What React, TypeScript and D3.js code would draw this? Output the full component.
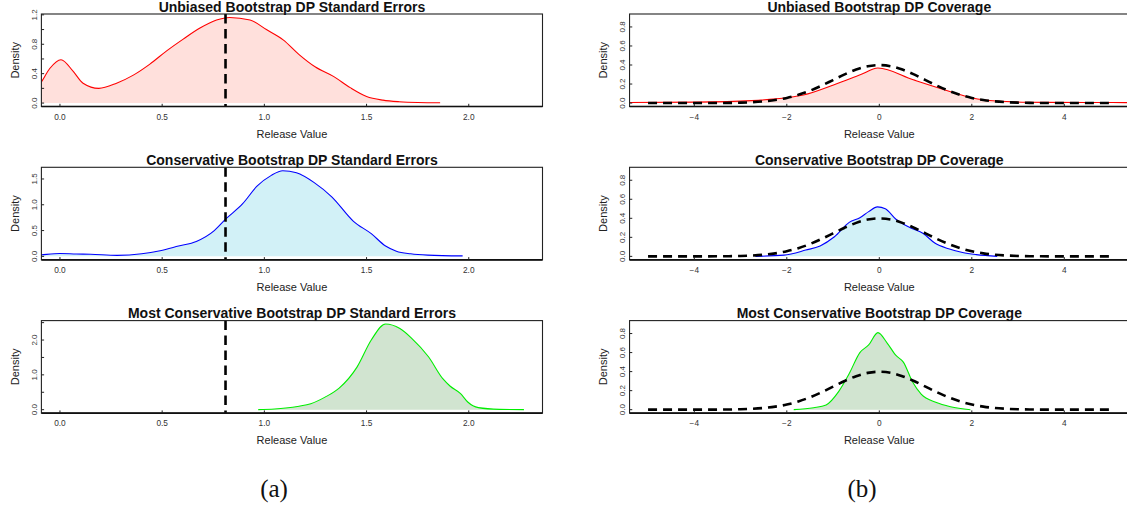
import React from "react";
import * as d3 from "d3";

type Pt = [number, number];

const W = 1127;
const H = 508;
const FONT = "'Liberation Sans', Arial, Helvetica, sans-serif";

// ---- Standard-error release densities (release value, density) ----
const unbiasedSE: Pt[] = [
  [-0.15, 0.13], [-0.093, 0.28], [-0.05, 0.47], [0.005, 0.59], [0.065, 0.43],
  [0.113, 0.27], [0.19, 0.2], [0.277, 0.27], [0.359, 0.38], [0.44, 0.53],
  [0.522, 0.71], [0.603, 0.87], [0.685, 1.02], [0.766, 1.13], [0.83, 1.165],
  [0.93, 1.13], [1.01, 1.0], [1.092, 0.86], [1.17, 0.66], [1.25, 0.49],
  [1.34, 0.36], [1.42, 0.21], [1.5, 0.09], [1.58, 0.04], [1.66, 0.018],
  [1.75, 0.008], [1.86, 0.005],
];

const conservativeSE: Pt[] = [
  [-0.12, 0.02], [-0.09, 0.03], [0.0, 0.055], [0.08, 0.045], [0.15, 0.04],
  [0.28, 0.02], [0.4, 0.05], [0.49, 0.11], [0.58, 0.2], [0.667, 0.29],
  [0.755, 0.5], [0.81, 0.72], [0.894, 1.02], [0.964, 1.36], [1.034, 1.57],
  [1.09, 1.66], [1.157, 1.62], [1.244, 1.43], [1.331, 1.15], [1.436, 0.68],
  [1.523, 0.44], [1.593, 0.2], [1.646, 0.1], [1.716, 0.05], [1.8, 0.025],
  [1.97, 0.01],
];

const mostConservativeSE: Pt[] = [
  [0.97, 0.0], [1.05, 0.02], [1.104, 0.046], [1.17, 0.1], [1.227, 0.17],
  [1.297, 0.36], [1.366, 0.62], [1.454, 1.23], [1.523, 2.0], [1.593, 2.46],
  [1.663, 2.33], [1.721, 2.05], [1.803, 1.52], [1.873, 0.89], [1.908, 0.68],
  [1.96, 0.46], [1.995, 0.22], [2.047, 0.06], [2.15, 0.01], [2.27, 0.0],
];

// ---- Coverage release densities (standardised value, density) ----
const unbiasedCov: Pt[] = [
  [-5.6, 0.006], [-3.97, 0.01], [-2.76, 0.026], [-1.98, 0.058], [-1.64, 0.085],
  [-0.99, 0.19], [-0.4, 0.3], [-0.03, 0.368], [0.735, 0.245], [1.456, 0.133],
  [2.01, 0.053], [2.53, 0.021], [3.25, 0.009], [4.5, 0.006], [5.6, 0.005],
];

const conservativeCov: Pt[] = [
  [-2.68, 0.0], [-2.06, 0.013], [-1.59, 0.066], [-1.28, 0.11], [-0.97, 0.206],
  [-0.65, 0.357], [-0.42, 0.406], [-0.23, 0.47], [-0.04, 0.52], [0.13, 0.5],
  [0.36, 0.39], [0.67, 0.3], [0.95, 0.24], [1.2, 0.14], [1.5, 0.08],
  [1.8, 0.04], [2.1, 0.018], [2.55, 0.0],
];

const mostConservativeCov: Pt[] = [
  [-1.85, 0.0], [-1.42, 0.02], [-1.15, 0.05], [-0.88, 0.19], [-0.65, 0.38],
  [-0.42, 0.6], [-0.23, 0.68], [-0.03, 0.81], [0.17, 0.7], [0.36, 0.57],
  [0.52, 0.5], [0.72, 0.29], [0.91, 0.16], [1.22, 0.077], [1.54, 0.03],
  [1.97, 0.0],
];

// Reference standard normal density, dashed on each coverage panel
const normalReference: Pt[] = [
  [-5, 0.0], [-4.5, 0.0], [-4, 0.0001], [-3.5, 0.0009], [-3.25, 0.002],
  [-3, 0.0044], [-2.75, 0.0091], [-2.5, 0.0175], [-2.25, 0.0317], [-2, 0.054],
  [-1.75, 0.0863], [-1.5, 0.1295], [-1.25, 0.1826], [-1, 0.242], [-0.75, 0.3011],
  [-0.5, 0.3521], [-0.25, 0.3867], [0, 0.3989], [0.25, 0.3867], [0.5, 0.3521],
  [0.75, 0.3011], [1, 0.242], [1.25, 0.1826], [1.5, 0.1295], [1.75, 0.0863],
  [2, 0.054], [2.25, 0.0317], [2.5, 0.0175], [2.75, 0.0091], [3, 0.0044],
  [3.25, 0.002], [3.5, 0.0009], [4, 0.0001], [4.5, 0.0], [5, 0.0],
];

// True standard error, marked with the dashed vertical line
const trueStandardError = 0.81;

const seTitles = [
  "Unbiased Bootstrap DP Standard Errors",
  "Conservative Bootstrap DP Standard Errors",
  "Most Conservative Bootstrap DP Standard Errors",
];
const covTitles = [
  "Unbiased Bootstrap DP Coverage",
  "Conservative Bootstrap DP Coverage",
  "Most Conservative Bootstrap DP Coverage",
];

const seXTicks = [0, 0.5, 1, 1.5, 2];
const covXTicks = [-4, -2, 0, 2, 4];

const seYMax = [1.165, 1.66, 2.46];
const seYTicks = [
  [0, 0.2, 0.4, 0.6, 0.8, 1.0, 1.2],
  [0, 0.5, 1.0, 1.5],
  [0, 0.5, 1.0, 1.5, 2.0, 2.5],
];
const seYLabels = [
  [0, 0.4, 0.8, 1.2],
  [0, 0.5, 1.0, 1.5],
  [0, 1.0, 2.0],
];
const covYMax = 0.9;
const covYTicks = [0, 0.2, 0.4, 0.6, 0.8];

const lineColors = ["#ff0000", "#0000ff", "#00ee00"];
const fillColors = ["#ffe0dc", "#d2f1f7", "#d1e4d0"];

const subCaptions = ["(a)", "(b)"];

const rowTops = [14, 167.3, 320.6];
const rowHeight = 92.5;

interface PanelProps {
  id: string;
  left: number;
  right: number;
  top: number;
  xDomain: [number, number];
  yMax: number;
  xTicks: number[];
  xFormat: (v: number) => string;
  yTicks: number[];
  yLabels: number[];
  title: string;
  data: Pt[];
  stroke: string;
  fill: string;
  vline?: number;
  reference?: Pt[];
}

function Panel(p: PanelProps) {
  const bottom = p.top + rowHeight;
  const x = d3.scaleLinear().domain(p.xDomain).range([p.left, p.right]);
  const y = d3
    .scaleLinear()
    .domain([-0.04 * p.yMax, 1.04 * p.yMax])
    .range([bottom, p.top]);
  const line = d3
    .line<Pt>()
    .x((d) => x(d[0]))
    .y((d) => y(d[1]))
    .curve(d3.curveMonotoneX);
  const area = d3
    .area<Pt>()
    .x((d) => x(d[0]))
    .y0(y(0))
    .y1((d) => y(d[1]))
    .curve(d3.curveMonotoneX);
  const cx = (p.left + p.right) / 2;
  const yFmt = d3.format(".1f");
  const clipId = `clip-${p.id}`;

  return (
    <g>
      <defs>
        <clipPath id={clipId}>
          <rect x={p.left} y={p.top} width={p.right - p.left} height={rowHeight} />
        </clipPath>
      </defs>
      <g clipPath={`url(#${clipId})`}>
        <path d={area(p.data) ?? ""} fill={p.fill} stroke="none" />
        <path d={line(p.data) ?? ""} fill="none" stroke={p.stroke} strokeWidth={1.1} />
        {p.reference && (
          <path
            d={line(p.reference) ?? ""}
            fill="none"
            stroke="#000"
            strokeWidth={2.6}
            strokeDasharray="9 6"
          />
        )}
        {p.vline !== undefined && (
          <line
            x1={x(p.vline)}
            x2={x(p.vline)}
            y1={p.top}
            y2={bottom}
            stroke="#000"
            strokeWidth={2.6}
            strokeDasharray="9.5 5.5"
          />
        )}
      </g>
      {/* plot frame */}
      <rect
        x={p.left}
        y={p.top}
        width={p.right - p.left}
        height={rowHeight}
        fill="none"
        stroke="#222"
        strokeWidth={1.1}
      />
      <line x1={p.left} x2={p.right} y1={bottom} y2={bottom} stroke="#111" strokeWidth={1.7} />
      {/* x axis */}
      {p.xTicks.map((t) => (
        <g key={`xt${t}`}>
          <line x1={x(t)} x2={x(t)} y1={bottom} y2={bottom - 2.7} stroke="#222" strokeWidth={1} />
          <text
            x={x(t)}
            y={bottom + 13}
            textAnchor="middle"
            fontSize={8.3}
            fill="#333"
            fontFamily={FONT}
          >
            {p.xFormat(t)}
          </text>
        </g>
      ))}
      {/* y axis */}
      {p.yTicks.map((t) => (
        <line
          key={`yt${t}`}
          x1={p.left}
          x2={p.left + 2.7}
          y1={y(t)}
          y2={y(t)}
          stroke="#222"
          strokeWidth={1}
        />
      ))}
      {p.yLabels.map((t) => (
        <text
          key={`yl${t}`}
          transform={`translate(${p.left - 7.2},${y(t)}) rotate(-90)`}
          textAnchor="middle"
          dy="0.35em"
          fontSize={8}
          fill="#333"
          fontFamily={FONT}
        >
          {yFmt(t)}
        </text>
      ))}
      <text
        transform={`translate(${p.left - 26},${(p.top + bottom) / 2}) rotate(-90)`}
        textAnchor="middle"
        dy="0.35em"
        fontSize={11}
        fill="#222"
        fontFamily={FONT}
      >
        Density
      </text>
      <text
        x={cx}
        y={bottom + 31}
        textAnchor="middle"
        fontSize={11}
        fill="#222"
        fontFamily={FONT}
      >
        Release Value
      </text>
      <text
        x={cx}
        y={p.top - 2.3}
        textAnchor="middle"
        fontSize={14}
        fontWeight="bold"
        fill="#111"
        fontFamily={FONT}
      >
        {p.title}
      </text>
    </g>
  );
}

export default function App() {
  const seSeries = [unbiasedSE, conservativeSE, mostConservativeSE];
  const covSeries = [unbiasedCov, conservativeCov, mostConservativeCov];
  const seFmt = d3.format(".1f");
  const covFmt = d3.format("d");

  return (
    <svg
      width={W}
      height={H}
      viewBox={`0 0 ${W} ${H}`}
      style={{ position: "absolute", left: 0, top: 0, background: "#fff", overflow: "hidden" }}
    >
      <rect x={0} y={0} width={W} height={H} fill="#fff" />
      {seSeries.map((data, i) => (
        <Panel
          key={`se${i}`}
          id={`se${i}`}
          left={41.4}
          right={542.5}
          top={rowTops[i]}
          xDomain={[-0.0908, 2.3608]}
          yMax={seYMax[i]}
          xTicks={seXTicks}
          xFormat={seFmt}
          yTicks={seYTicks[i]}
          yLabels={seYLabels[i]}
          title={seTitles[i]}
          data={data}
          stroke={lineColors[i]}
          fill={fillColors[i]}
          vline={trueStandardError}
        />
      ))}
      {covSeries.map((data, i) => (
        <Panel
          key={`cov${i}`}
          id={`cov${i}`}
          left={629.55}
          right={1129.05}
          top={rowTops[i]}
          xDomain={[-5.4, 5.4]}
          yMax={covYMax}
          xTicks={covXTicks}
          xFormat={covFmt}
          yTicks={covYTicks}
          yLabels={covYTicks}
          title={covTitles[i]}
          data={data}
          stroke={lineColors[i]}
          fill={fillColors[i]}
          reference={normalReference}
        />
      ))}
      {subCaptions.map((c, i) => (
        <text
          key={c}
          x={i === 0 ? 274 : 862}
          y={497}
          textAnchor="middle"
          fontSize={25}
          fill="#111"
          fontFamily="'Liberation Serif', 'Times New Roman', serif"
        >
          {c}
        </text>
      ))}
    </svg>
  );
}
